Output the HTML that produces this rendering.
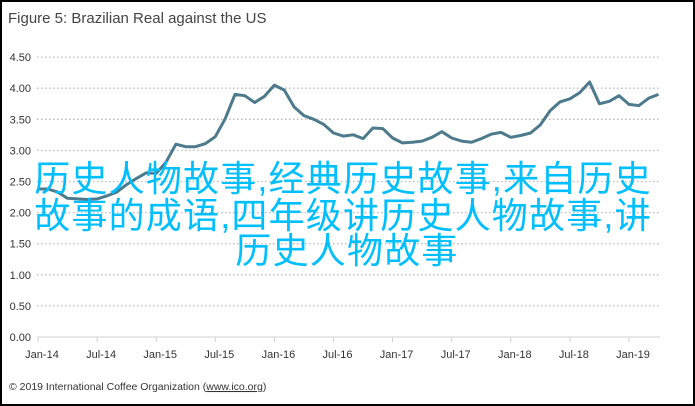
<!DOCTYPE html>
<html><head><meta charset="utf-8"><style>
body{margin:0;width:695px;height:406px;overflow:hidden;background:#fff}
svg{display:block}
</style></head><body>
<svg id="s" width="695" height="406" xmlns="http://www.w3.org/2000/svg" font-family="Liberation Sans, sans-serif">
<rect x="1" y="1" width="693" height="404" fill="#fff" stroke="#000" stroke-width="2"/>
<text x="8" y="23" font-size="15" fill="#444">Figure 5: Brazilian Real against the US</text>
<g id="grid" stroke="#bbb" stroke-width="1.3" stroke-dasharray="1.5,2.5"></g>
<line x1="37" y1="337" x2="660" y2="337" stroke="#d0d0d0" stroke-width="1"/>
<g id="ticks" stroke="#d0d0d0"></g>
<g id="yl" font-size="11" fill="#333" text-anchor="end"></g>
<g id="xl" font-size="11" fill="#333" text-anchor="middle"></g>
<polyline id="ln" fill="none" stroke="#4d7a8c" stroke-width="3" stroke-linejoin="round"/>
<text x="9" y="390" font-size="10.5" fill="#333">© 2019 International Coffee Organization (<tspan text-decoration="underline">www.ico.org</tspan>)</text>
<g font-family="Liberation Sans, Noto Sans CJK SC, sans-serif" font-size="36" fill="#00bfff" text-anchor="middle" letter-spacing="1.2">
<text x="343" y="191">历史人物故事,经典历史故事,来自历史</text>
<text x="343" y="228">故事的成语,四年级讲历史人物故事,讲</text>
<text x="347" y="263">历史人物故事</text>
</g>
</svg>
<script>
var ns="http://www.w3.org/2000/svg";
function el(p,t,a,txt){var e=document.createElementNS(ns,t);for(var k in a)e.setAttribute(k,a[k]);if(txt)e.textContent=txt;document.getElementById(p).appendChild(e);}
function Y(v){return 337-v*62.2;}
for(var i=1;i<=9;i++){var v=i*0.5;el("grid","line",{x1:37,x2:660,y1:Y(v),y2:Y(v)});}
for(var i=0;i<=9;i++){el("yl","text",{x:31,y:Y(i*0.5)+4},(i*0.5).toFixed(2));}
var labs=["Jan-14","Jul-14","Jan-15","Jul-15","Jan-16","Jul-16","Jan-17","Jul-17","Jan-18","Jul-18","Jan-19"];
for(var i=0;i<11;i++){var x=38+i*6*9.85;el("ticks","line",{x1:x,x2:x,y1:337,y2:342});el("xl","text",{x:x+4,y:358},labs[i]);}
var d=[2.38,2.38,2.33,2.23,2.22,2.21,2.22,2.27,2.33,2.45,2.55,2.64,
2.63,2.81,3.10,3.06,3.06,3.11,3.22,3.51,3.90,3.88,3.77,3.87,
4.05,3.97,3.70,3.56,3.50,3.42,3.28,3.23,3.25,3.19,3.36,3.35,
3.20,3.12,3.13,3.15,3.21,3.30,3.20,3.15,3.13,3.19,3.26,3.29,
3.21,3.24,3.28,3.41,3.64,3.78,3.83,3.93,4.10,3.75,3.79,3.88,
3.74,3.72,3.84,3.90];
var pts=d.map(function(v,m){return (38+m*9.85).toFixed(1)+","+Y(v).toFixed(1);}).join(" ");
document.getElementById("ln").setAttribute("points",pts);
</script>
</body></html>
